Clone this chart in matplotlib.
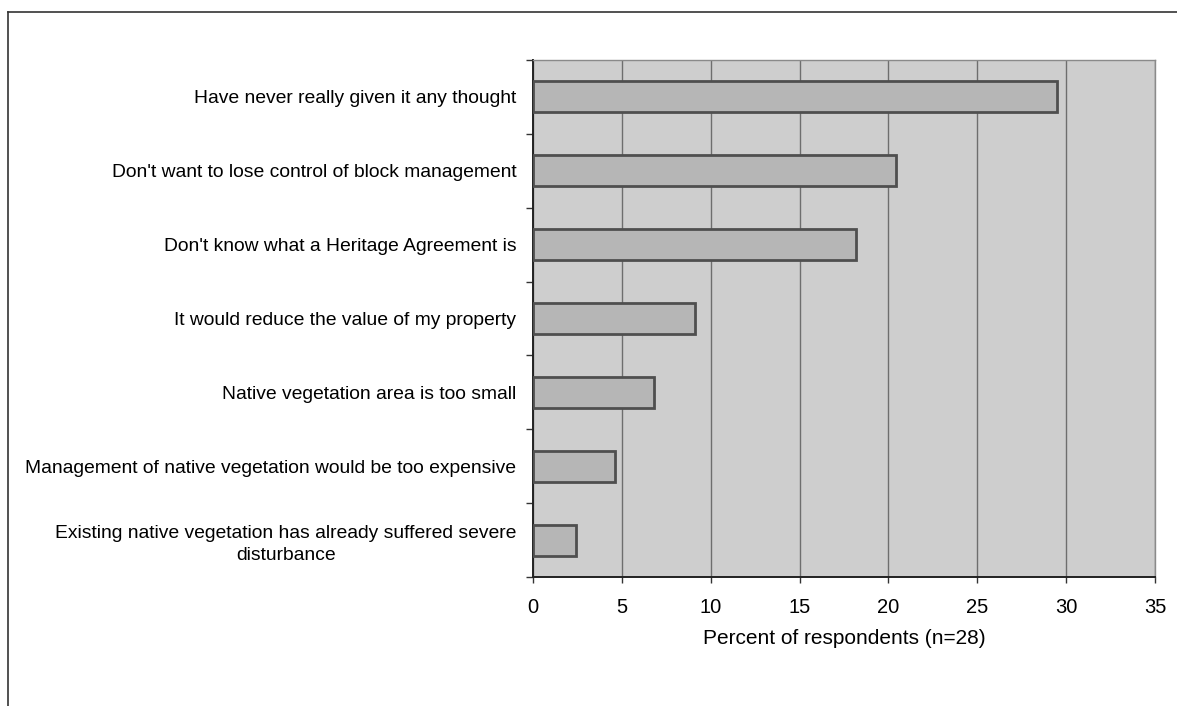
import matplotlib
matplotlib.use("Agg")
import matplotlib.pyplot as plt
from matplotlib.lines import Line2D
import numpy as np

plt.rcParams['font.family'] = ['Liberation Sans', 'DejaVu Sans']

categories = [
    "Have never really given it any thought",
    "Don't want to lose control of block management",
    "Don't know what a Heritage Agreement is",
    "It would reduce the value of my property",
    "Native vegetation area is too small",
    "Management of native vegetation would be too expensive",
    "Existing native vegetation has already suffered severe\ndisturbance",
]
values = [29.5, 20.4, 18.2, 9.1, 6.8, 4.6, 2.4]
xticks = [0, 5, 10, 15, 20, 25, 30, 35]
xlabel = "Percent of respondents (n=28)"

W, H = 1177, 706
fig = plt.figure(figsize=(W / 100, H / 100), dpi=100)
fig.patch.set_facecolor("white")

left, right, top, bottom = 533, 1155, 60, 577
ax = fig.add_axes([left / W, 1 - bottom / H, (right - left) / W, (bottom - top) / H])
ax.set_facecolor("#cecece")

n = len(categories)
ypos = np.arange(n)
ax.barh(ypos, values, height=0.42, color="#b6b6b6", edgecolor="#4f4f4f",
        linewidth=2.0, zorder=3)

ax.set_xlim(0, 35)
ax.set_ylim(n - 0.5, -0.5)
ax.set_xticks(xticks)
ax.set_xticklabels([str(t) for t in xticks], fontsize=14.5)
ax.tick_params(axis="x", length=4, width=1, pad=11, color="#333333")
ax.grid(axis="x", color="#6e6e6e", linewidth=1.0, zorder=1)

ax.set_yticks(ypos)
ax.set_yticklabels(categories, fontsize=13.9, ha="right")
for lbl in ax.get_yticklabels():
    lbl.set_multialignment("center")
    lbl.set_linespacing(1.35)
ax.tick_params(axis="y", which="major", length=0, pad=12)
ax.set_yticks(np.arange(-0.5, n, 1.0), minor=True)
ax.tick_params(axis="y", which="minor", length=5, width=1, color="#333333")

ax.set_xlabel(xlabel, fontsize=15, labelpad=9)

for s in ["left", "bottom"]:
    ax.spines[s].set_color("#222222")
    ax.spines[s].set_linewidth(1.4)
for s in ["top", "right"]:
    ax.spines[s].set_color("#8a8a8a")
    ax.spines[s].set_linewidth(1.0)

# figure frame lines
fig.add_artist(Line2D([8 / W, 1.0], [1 - 12 / H, 1 - 12 / H], color="#333333", linewidth=1.2,
                      transform=fig.transFigure))
fig.add_artist(Line2D([8 / W, 8 / W], [0, 1 - 12 / H], color="#333333", linewidth=1.2,
                      transform=fig.transFigure))

fig.savefig("out.png", dpi=100)
